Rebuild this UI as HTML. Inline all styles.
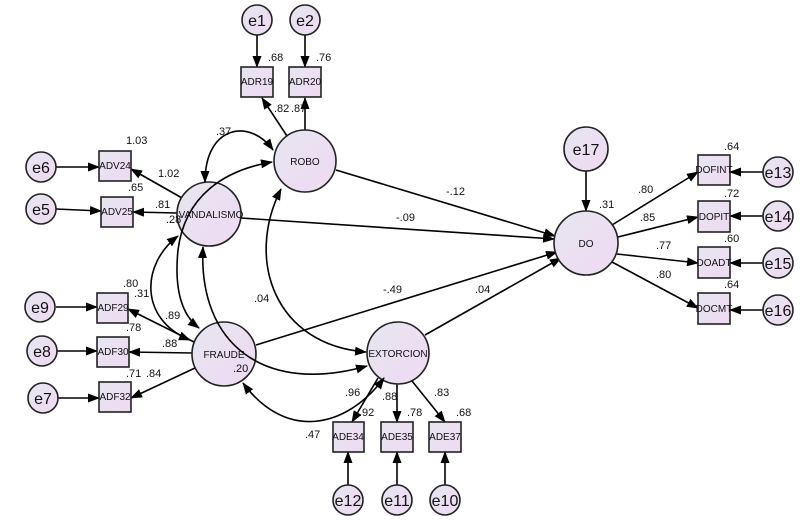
<!DOCTYPE html>
<html><head><meta charset="utf-8"><style>
body{margin:0;background:#fff}
svg{display:block}
text{font-family:"Liberation Sans",sans-serif;fill:#111}
.l{font-size:11px}
.n{font-size:10px}
.e{font-size:16px}
</style></head><body>
<svg width="806" height="522" viewBox="0 0 806 522">
<defs>
<linearGradient id="g" x1="0" y1="0" x2="1" y2="1"><stop offset="0" stop-color="#e6e6f0"/><stop offset="1" stop-color="#efd9f3"/></linearGradient>
<marker id="a" markerWidth="12" markerHeight="9" refX="11" refY="4.5" orient="auto" markerUnits="userSpaceOnUse"><path d="M0,0 L12,4.5 L0,9 z" fill="#000"/></marker>
<marker id="s" markerWidth="12" markerHeight="9" refX="1" refY="4.5" orient="auto" markerUnits="userSpaceOnUse"><path d="M12,0 L0,4.5 L12,9 z" fill="#000"/></marker>
</defs>
<g stroke="#000" stroke-width="1.6" fill="none" marker-end="url(#a)">
<line x1="257" y1="35" x2="257" y2="67"/><line x1="305" y1="35" x2="305" y2="67"/>
<line x1="287" y1="136" x2="262" y2="98"/><line x1="305" y1="130" x2="305" y2="98"/>
<line x1="336" y1="170" x2="555" y2="236"/>
<line x1="241" y1="218" x2="554" y2="239"/>
<line x1="256" y1="345" x2="557" y2="252"/>
<line x1="425" y1="335" x2="561" y2="258"/>
<line x1="586" y1="171" x2="586" y2="211"/>
<line x1="612" y1="225" x2="698" y2="172"/><line x1="618" y1="237" x2="698" y2="217"/>
<line x1="617" y1="254" x2="698" y2="263"/><line x1="612" y1="262" x2="698" y2="308"/>
<line x1="763" y1="172" x2="730" y2="172"/><line x1="763" y1="216" x2="730" y2="216"/>
<line x1="763" y1="263" x2="730" y2="263"/><line x1="763" y1="310" x2="730" y2="310"/>
<line x1="182" y1="198" x2="131" y2="169"/><line x1="177" y1="213" x2="133" y2="212"/>
<line x1="56" y1="167" x2="99" y2="167"/><line x1="56" y1="209" x2="101" y2="211"/>
<line x1="194" y1="342" x2="128" y2="309"/><line x1="192" y1="353" x2="129" y2="352"/><line x1="195" y1="368" x2="131" y2="398"/>
<line x1="56" y1="307" x2="97" y2="307"/><line x1="57" y1="351" x2="97" y2="351"/><line x1="58" y1="398" x2="99" y2="398"/>
<line x1="378" y1="378" x2="352" y2="422"/><line x1="397" y1="384" x2="397" y2="422"/><line x1="412" y1="381" x2="445" y2="422"/>
<line x1="348" y1="485" x2="348" y2="452"/><line x1="397" y1="485" x2="397" y2="452"/><line x1="445" y1="485" x2="445" y2="452"/>
</g>
<g stroke="#222" stroke-width="1.6" fill="url(#g)">
<circle cx="305" cy="161" r="31"/><circle cx="209" cy="214" r="32"/><circle cx="224" cy="354" r="32"/>
<circle cx="398" cy="353" r="31"/><circle cx="586" cy="243" r="32"/><circle cx="586" cy="149" r="22"/>
<circle cx="257" cy="20" r="15"/><circle cx="305" cy="20" r="15"/>
<circle cx="41" cy="167" r="15"/><circle cx="41" cy="209" r="15"/>
<circle cx="40" cy="307" r="15"/><circle cx="42" cy="351" r="15"/><circle cx="43" cy="398" r="15"/>
<circle cx="348" cy="500" r="15"/><circle cx="397" cy="500" r="15"/><circle cx="445" cy="500" r="15"/>
<circle cx="778" cy="172" r="15"/><circle cx="778" cy="216" r="15"/><circle cx="778" cy="263" r="15"/><circle cx="778" cy="310" r="15"/>
<rect x="241" y="67" width="32" height="30"/><rect x="289" y="67" width="32" height="30"/>
<rect x="99" y="151" width="32" height="30"/><rect x="101" y="197" width="32" height="30"/>
<rect x="97" y="293" width="31" height="30"/><rect x="97" y="337" width="32" height="30"/><rect x="99" y="382" width="32" height="30"/>
<rect x="333" y="422" width="31" height="30"/><rect x="381" y="422" width="32" height="30"/><rect x="429" y="422" width="32" height="30"/>
<rect x="698" y="155" width="32" height="30"/><rect x="698" y="201" width="32" height="31"/><rect x="698" y="247" width="32" height="31"/><rect x="698" y="293" width="32" height="31"/>
</g>
<g stroke="#000" stroke-width="1.6" fill="none" marker-end="url(#a)" marker-start="url(#s)">
<path d="M273,150 C250,118 205,125 205,182"/>
<path d="M272,162 C225,170 185,195 178,250 C174,290 182,315 199,328"/>
<path d="M178,236 C140,265 140,320 190,340"/>
<path d="M203,247 C198,345 265,395 367,366"/>
<path d="M281,189 C245,260 275,345 366,352"/>
<path d="M243,383 C285,440 345,430 384,378"/>
</g>
<g class="n" text-anchor="middle">
<text x="305" y="165">ROBO</text><text x="211" y="218">VANDALISMO</text><text x="224" y="358">FRAUDE</text>
<text x="398" y="357">EXTORCION</text><text x="586" y="247">DO</text>
<text x="257" y="85">ADR19</text><text x="305" y="85">ADR20</text>
<text x="115" y="169">ADV24</text><text x="117" y="215">ADV25</text>
<text x="113" y="311">ADF29</text><text x="113" y="355">ADF30</text><text x="115" y="400">ADF32</text>
<text x="348" y="440">ADE34</text><text x="397" y="440">ADE35</text><text x="445" y="440">ADE37</text>
<text x="714" y="173">DOFINT</text><text x="714" y="220">DOPIT</text><text x="714" y="266">DOADT</text><text x="714" y="312">DOCMT</text>
</g>
<g class="e" text-anchor="middle">
<text x="257" y="26">e1</text><text x="305" y="26">e2</text><text x="586" y="155">e17</text>
<text x="41" y="173">e6</text><text x="41" y="215">e5</text><text x="40" y="313">e9</text><text x="42" y="357">e8</text><text x="43" y="404">e7</text>
<text x="348" y="506">e12</text><text x="397" y="506">e11</text><text x="445" y="506">e10</text>
<text x="778" y="178">e13</text><text x="778" y="222">e14</text><text x="778" y="269">e15</text><text x="778" y="316">e16</text>
</g>
<g class="l">
<text x="268" y="61">.68</text><text x="316" y="61">.76</text><text x="274" y="112">.82</text><text x="291" y="112">.87</text>
<text x="216" y="135">.37</text><text x="126" y="144">1.03</text><text x="158" y="177">1.02</text><text x="128" y="191">.65</text>
<text x="155" y="208">.81</text><text x="166" y="223">.28</text><text x="446" y="195">-.12</text><text x="396" y="221">-.09</text>
<text x="599" y="208">.31</text><text x="638" y="193">.80</text><text x="640" y="221">.85</text><text x="656" y="249">.77</text>
<text x="656" y="278">.80</text><text x="724" y="150">.64</text><text x="724" y="197">.72</text><text x="724" y="242">.60</text><text x="724" y="288">.64</text>
<text x="123" y="287">.80</text><text x="134" y="297">.31</text><text x="165" y="319">.89</text><text x="126" y="331">.78</text>
<text x="162" y="347">.88</text><text x="126" y="377">.71</text><text x="146" y="377">.84</text><text x="233" y="372">.20</text>
<text x="254" y="302">.04</text><text x="383" y="293">-.49</text><text x="475" y="293">.04</text>
<text x="345" y="396">.96</text><text x="382" y="400">.88</text><text x="359" y="416">.92</text><text x="305" y="438">.47</text>
<text x="407" y="416">.78</text><text x="434" y="396">.83</text><text x="456" y="416">.68</text>
</g>
</svg>
</body></html>
